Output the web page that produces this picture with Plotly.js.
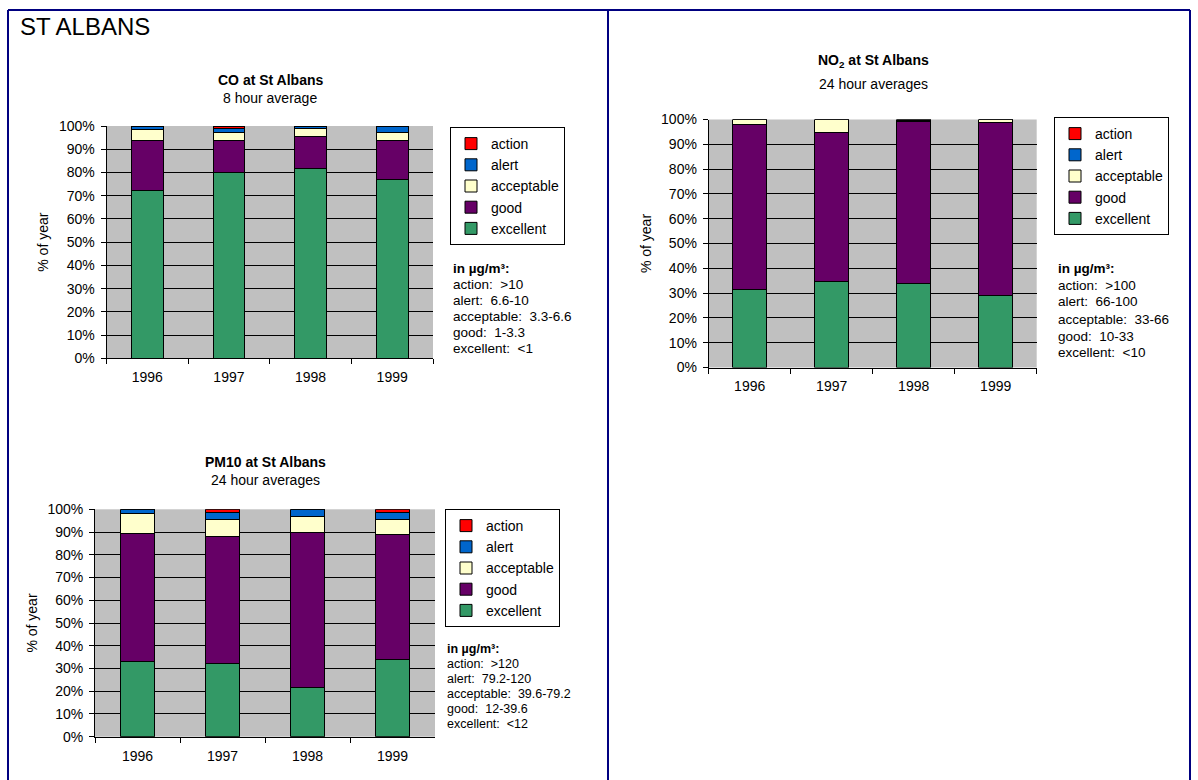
<!DOCTYPE html>
<html>
<head>
<meta charset="utf-8">
<script src="https://cdn.plot.ly/plotly-3.0.1.min.js"></script>
<style>
html,body{margin:0;padding:0;background:#fff;}
#chart{width:1198px;height:780px;}
</style>
</head>
<body>
<div id="chart"></div>
<script>
// ---- data ----
const years = ['1996', '1997', '1998', '1999'];
const categories = ['excellent', 'good', 'acceptable', 'alert', 'action'];

const coExcellent  = [72.3, 80.1, 81.6, 76.8];
const coGood       = [21.4, 13.6, 13.8, 16.9];
const coAcceptable = [4.6, 3.7, 3.4, 3.7];
const coAlert      = [1.4, 1.4, 0.8, 2.6];
const coAction     = [0.3, 1.2, 0.4, 0.0];

const no2Excellent  = [31.4, 34.5, 33.9, 29.2];
const no2Good       = [66.4, 60.1, 65.3, 69.6];
const no2Acceptable = [2.2, 5.4, 0.3, 1.2];
const no2Alert      = [0.0, 0.0, 0.5, 0.0];
const no2Action     = [0.0, 0.0, 0.0, 0.0];

const pmExcellent  = [33.2, 32.0, 21.7, 34.1];
const pmGood       = [56.2, 55.9, 68.0, 55.0];
const pmAcceptable = [8.8, 7.7, 7.2, 6.5];
const pmAlert      = [1.8, 3.2, 3.1, 3.2];
const pmAction     = [0.0, 1.2, 0.0, 1.2];

const pageTitle = 'ST ALBANS';
const coTitle = 'CO at St Albans';
const coSub = '8 hour average';
const no2Title = 'NO<sub>2</sub> at St Albans';
const no2Sub = '24 hour averages';
const pmTitle = 'PM10 at St Albans';
const pmSub = '24 hour averages';
const yTitle = '% of year';
const unitHead = 'in µg/m³:';
const coUnits  = ['action:  >10', 'alert:  6.6-10', 'acceptable:  3.3-6.6', 'good:  1-3.3', 'excellent:  <1'];
const no2Units = ['action:  >100', 'alert:  66-100', 'acceptable:  33-66', 'good:  10-33', 'excellent:  <10'];
const pmUnits  = ['action:  >120', 'alert:  79.2-120', 'acceptable:  39.6-79.2', 'good:  12-39.6', 'excellent:  <12'];

// ---- styles ----
const colors = {excellent:'#339966', good:'#660066', acceptable:'#FFFFCC', alert:'#0066CC', action:'#FF0000'};
const FONT = 'Arial, "Liberation Sans", sans-serif';
const W = 1198, H = 780;
const px = v => v / W;
const py = v => 1 - v / H;

function chartTraces(vals, xa, ya, leg, barW) {
  return categories.map((c, i) => ({
    type: 'bar', name: c, x: years, y: vals[i],
    xaxis: xa, yaxis: ya, legend: leg, legendgroup: leg + c,
    legendrank: 10 - i,
    width: barW,
    marker: {color: colors[c], line: {color: '#000', width: 1}},
    hoverinfo: 'name+y'
  }));
}

const data = [].concat(
  chartTraces([coExcellent, coGood, coAcceptable, coAlert, coAction], 'x', 'y', 'legend', 0.39),
  chartTraces([no2Excellent, no2Good, no2Acceptable, no2Alert, no2Action], 'x2', 'y2', 'legend2', 0.41),
  chartTraces([pmExcellent, pmGood, pmAcceptable, pmAlert, pmAction], 'x3', 'y3', 'legend3', 0.40)
);

const tf = {family: FONT, size: 14, color: '#000'};
function xax(d0, d1, anchor) {
  return {domain: [px(d0), px(d1)], anchor: anchor, type: 'category',
    showgrid: false, showline: true, linecolor: '#000', linewidth: 1,
    ticks: 'outside', tickson: 'boundaries', ticklen: 5, tickcolor: '#000',
    tickfont: tf, ticklabelstandoff: 6, fixedrange: true};
}
function yax(top, bot, anchor) {
  return {domain: [py(bot), py(top)], anchor: anchor, range: [0, 100], dtick: 10,
    ticksuffix: '%', showgrid: true, gridcolor: '#000', gridwidth: 1,
    showline: true, linecolor: '#000', linewidth: 1, zeroline: false,
    ticks: 'outside', ticklen: 5, tickcolor: '#000', tickfont: tf,
    ticklabelstandoff: 3, fixedrange: true,
    title: {text: yTitle, font: {family: FONT, size: 14, color: '#000'}, standoff: 6}};
}
function legend(x, y) {
  return {x: px(x), y: py(y), xanchor: 'left', yanchor: 'top',
    bgcolor: '#fff', bordercolor: '#000', borderwidth: 1,
    traceorder: 'grouped', tracegroupgap: 0, itemwidth: 30,
    font: {family: FONT, size: 14, color: '#000'}};
}

const annotations = [];
function txt(text, x, y, size, opts) {
  annotations.push(Object.assign({text: text, x: px(x), y: py(y), xref: 'paper', yref: 'paper',
    showarrow: false, font: {family: FONT, size: size, color: '#000'},
    xanchor: 'center', yanchor: 'middle'}, opts || {}));
}
txt(pageTitle, 18, 27, 24, {xanchor: 'left'});
txt('<b>' + coTitle + '</b>', 270, 80, 14);
txt(coSub, 270, 98, 14);
txt('<b>' + no2Title + '</b>', 873, 61, 14);
txt(no2Sub, 873, 84, 14);
txt('<b>' + pmTitle + '</b>', 265, 462, 14);
txt(pmSub, 265, 480, 14);

function units(list, x, y0, step, size) {
  txt('<b>' + unitHead + '</b>', x, y0, size, {xanchor: 'left'});
  list.forEach((s, i) => txt(s, x, y0 + step * (i + 1), size, {xanchor: 'left'}));
}
units(coUnits, 451, 268, 16, 13.5);
units(no2Units, 1056, 268, 17, 13.5);
units(pmUnits, 445, 649, 15, 12.5);

const navy = '#000080';
const shapes = [
  {type: 'line', xref: 'paper', yref: 'paper', x0: px(8), x1: px(1190), y0: py(10), y1: py(10), line: {color: navy, width: 2}},
  {type: 'line', xref: 'paper', yref: 'paper', x0: px(8), x1: px(8), y0: py(10), y1: py(780), line: {color: navy, width: 2}},
  {type: 'line', xref: 'paper', yref: 'paper', x0: px(608), x1: px(608), y0: py(10), y1: py(780), line: {color: navy, width: 2}},
  {type: 'line', xref: 'paper', yref: 'paper', x0: px(1190), x1: px(1190), y0: py(10), y1: py(780), line: {color: navy, width: 2}}
];

const layout = {
  width: W, height: H,
  margin: {l: 0, r: 0, t: 0, b: 0},
  paper_bgcolor: '#fff', plot_bgcolor: '#C0C0C0',
  barmode: 'stack',
  font: {family: FONT, size: 14, color: '#000'},
  xaxis: xax(106.5, 433, 'y'),
  yaxis: yax(126, 358.3, 'x'),
  xaxis2: xax(708.7, 1036.7, 'y2'),
  yaxis2: yax(119.5, 367.5, 'x2'),
  xaxis3: xax(95, 435, 'y3'),
  yaxis3: yax(509.3, 736.7, 'x3'),
  legend: legend(450, 127),
  legend2: legend(1054, 117),
  legend3: legend(445, 509),
  annotations: annotations,
  shapes: shapes,
  showlegend: true
};

Plotly.newPlot('chart', data, layout, {displayModeBar: false, staticPlot: true});
</script>
</body>
</html>
